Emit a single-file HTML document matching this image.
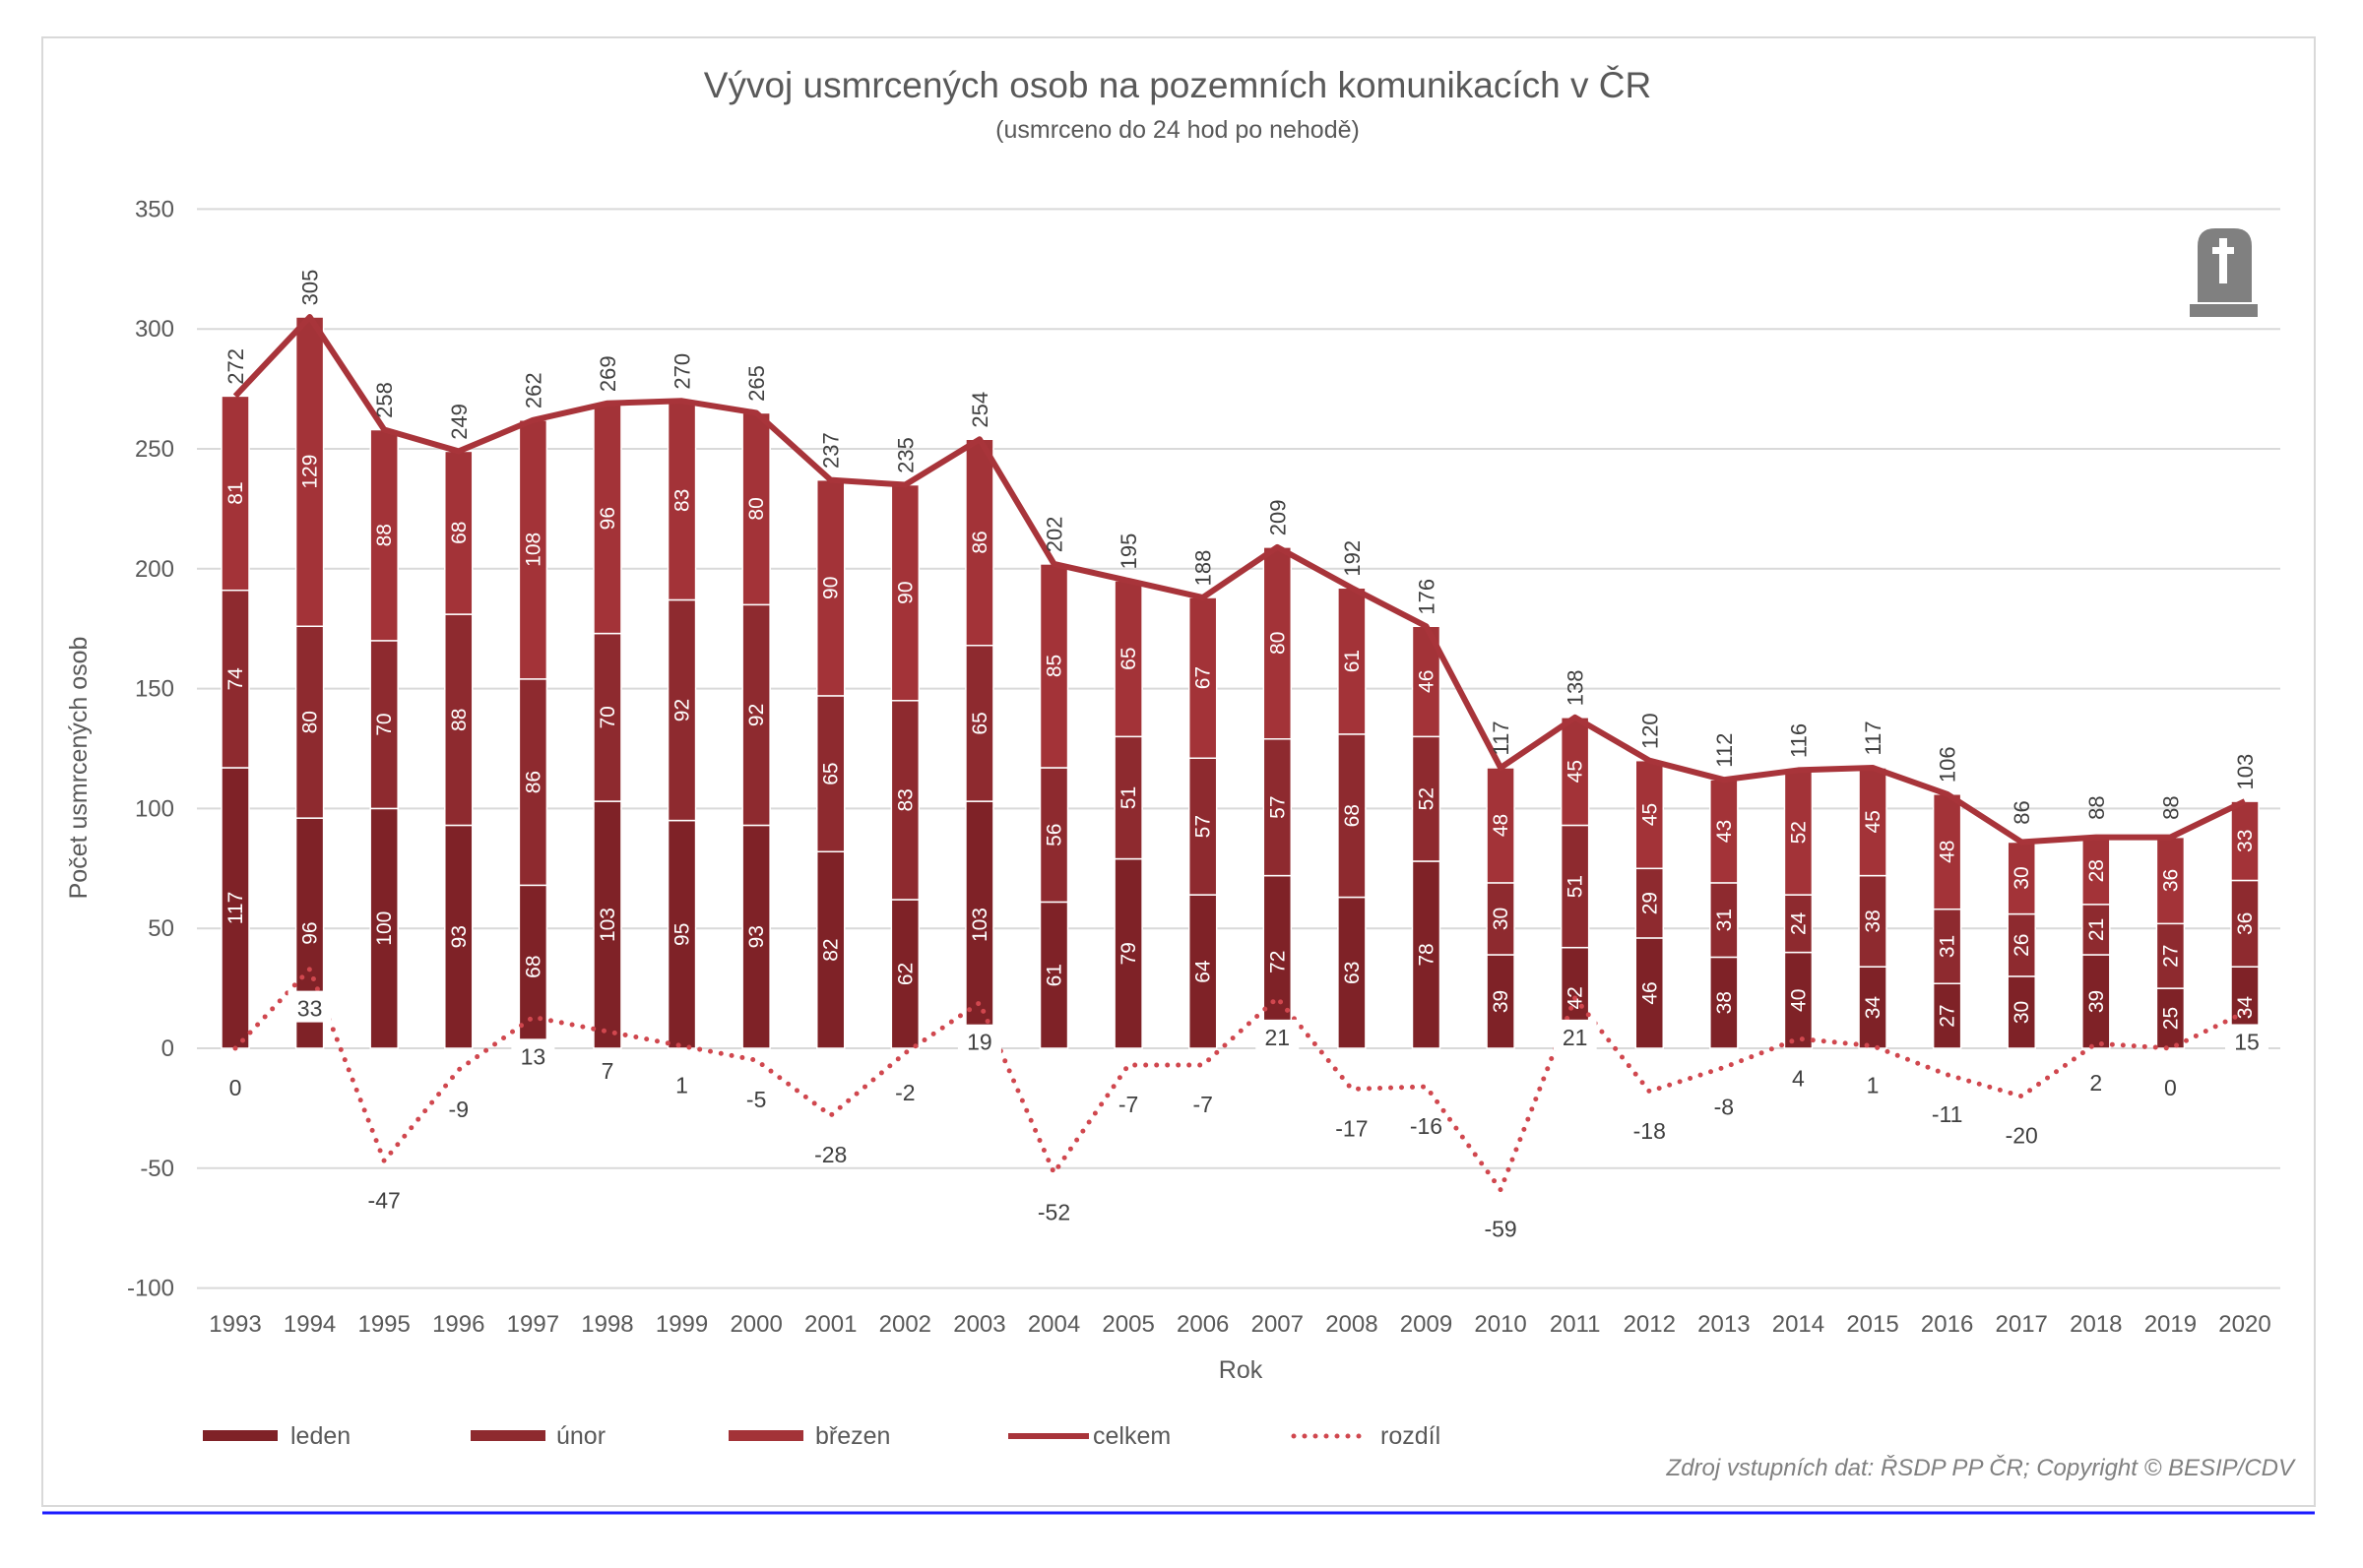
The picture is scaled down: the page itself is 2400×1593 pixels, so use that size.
<!DOCTYPE html>
<html><head><meta charset="utf-8"><style>
html,body{margin:0;padding:0;background:#fff;}
svg{display:block;font-family:"Liberation Sans",sans-serif;}
</style></head><body>
<svg id="chart" width="2400" height="1593" viewBox="0 0 2400 1593" xmlns="http://www.w3.org/2000/svg">
<rect x="43" y="38" width="2308" height="1492" fill="#fff" stroke="#d9d9d9" stroke-width="2"/>
<line x1="43" y1="1537" x2="2351" y2="1537" stroke="#1a1aff" stroke-width="3"/>
<text x="1196" y="99" text-anchor="middle" font-size="37" fill="#595959">Vývoj usmrcených osob na pozemních komunikacích v ČR</text>
<text x="1196" y="140" text-anchor="middle" font-size="25" fill="#595959">(usmrceno do 24 hod po nehodě)</text>
<g id="grid"></g>
<g id="bars"></g>
<g id="lines"></g>
<g id="labels"></g>
<text transform="translate(88,780) rotate(-90)" text-anchor="middle" font-size="25" fill="#595959">Počet usmrcených osob</text>
<text x="1260" y="1400" text-anchor="middle" font-size="25" fill="#595959">Rok</text>
<g fill="#808080">
<path d="M2232,307 L2232,250 Q2232,232 2250,232 L2269,232 Q2287,232 2287,250 L2287,307 Z"/>
<rect x="2224" y="309" width="69" height="13"/>
<rect x="2254" y="242" width="8" height="46" fill="#fff"/>
<rect x="2247" y="251" width="22" height="7" fill="#fff"/>
</g>
<g font-size="25" fill="#595959">
<g><rect x="206" y="1453" width="76" height="11" fill="#7f2227"/><text x="295" y="1467">leden</text></g>
<g><rect x="478" y="1453" width="76" height="11" fill="#8e2a2f"/><text x="565" y="1467">únor</text></g>
<g><rect x="740" y="1453" width="76" height="11" fill="#a33338"/><text x="828" y="1467">březen</text></g>
<g><line x1="1024" y1="1459" x2="1106" y2="1459" stroke="#a8343a" stroke-width="6"/><text x="1110" y="1467">celkem</text></g>
<g><line x1="1314" y1="1459" x2="1388" y2="1459" stroke="#d0474e" stroke-width="5" stroke-dasharray="0 11" stroke-linecap="round"/><text x="1402" y="1467">rozdíl</text></g>
</g>
<text x="2330" y="1499" text-anchor="end" font-size="24" font-style="italic" fill="#808080">Zdroj vstupních dat: ŘSDP PP ČR; Copyright © BESIP/CDV</text>
</svg>
<script>
const years = [1993,1994,1995,1996,1997,1998,1999,2000,2001,2002,2003,2004,2005,2006,2007,2008,2009,2010,2011,2012,2013,2014,2015,2016,2017,2018,2019,2020];
const leden = [117,96,100,93,68,103,95,93,82,62,103,61,79,64,72,63,78,39,42,46,38,40,34,27,30,39,25,34];
const unor = [74,80,70,88,86,70,92,92,65,83,65,56,51,57,57,68,52,30,51,29,31,24,38,31,26,21,27,36];
const brezen = [81,129,88,68,108,96,83,80,90,90,86,85,65,67,80,61,46,48,45,45,43,52,45,48,30,28,36,33];
const celkem = [272,305,258,249,262,269,270,265,237,235,254,202,195,188,209,192,176,117,138,120,112,116,117,106,86,88,88,103];
const rozdil = [0,33,-47,-9,13,7,1,-5,-28,-2,19,-52,-7,-7,21,-17,-16,-59,21,-18,-8,4,1,-11,-20,2,0,15];
const yTicks = [350,300,250,200,150,100,50,0,-50,-100];

const NS = "http://www.w3.org/2000/svg";
const x = i => 239 + i * (2280 - 239) / 27;
const y = v => 1065 - v * 121.8 / 50;
function mk(tag, attrs, parent, txt){const e=document.createElementNS(NS,tag);for(const k in attrs)e.setAttribute(k,attrs[k]);if(txt!==undefined)e.textContent=txt;parent.appendChild(e);return e;}
const grid=document.getElementById('grid'),bars=document.getElementById('bars'),lines=document.getElementById('lines'),labels=document.getElementById('labels');

yTicks.forEach(t=>{
  const l=mk('line',{x1:200,x2:2316,y1:y(t),y2:y(t),stroke:'#d9d9d9','stroke-width':2},grid);
  
  
  const tx=mk('text',{x:177,y:y(t)+8,'text-anchor':'end','font-size':24,fill:'#595959'},grid,String(t));
  
  
});

const BW=28;
const series=[[leden,'#7f2227','leden'],[unor,'#8e2a2f','unor'],[brezen,'#a33338','brezen']];
years.forEach((yr,i)=>{
  let base=0;
  series.forEach(([arr,col,nm])=>{
    const v=arr[i];
    const r=mk('rect',{x:x(i)-BW/2,y:y(base+v),width:BW,height:y(base)-y(base+v),fill:col,stroke:'#fff','stroke-width':1.5},bars);
    
    
    const cy=(y(base)+y(base+v))/2;
    const t=mk('text',{transform:`translate(${x(i)+7},${cy}) rotate(-90)`,'text-anchor':'middle','font-size':21,fill:'#fff'},labels,String(v));
    
    
    base+=v;
  });
  const tx=mk('text',{x:x(i),y:1353,'text-anchor':'middle','font-size':24,fill:'#595959'},labels,String(yr));
  
  
  const tt=mk('text',{transform:`translate(${x(i)+8},${y(celkem[i])-30}) rotate(-90)`,'text-anchor':'middle','font-size':22,fill:'#404040'},labels,String(celkem[i]));
  
  
});

const totPts=celkem.map((v,i)=>x(i)+','+y(v)).join(' ');
const pl=mk('polyline',{points:totPts,fill:'none',stroke:'#a8343a','stroke-width':6,'stroke-linejoin':'round'},lines);


const dPts=rozdil.map((v,i)=>x(i)+','+y(v)).join(' ');
const dl=mk('polyline',{points:dPts,fill:'none',stroke:'#d0474e','stroke-width':5,'stroke-dasharray':'0 11','stroke-linecap':'round'},lines);



rozdil.forEach((v,i)=>{
  let lx=x(i), ly=y(v)+40;
  if(i===years.length-1){lx=x(i)+2; ly=y(v)+30;}
  const s=String(v);
  if(v>0){
    const bg=mk('rect',{x:lx-22,y:ly-18,width:44,height:32,fill:'#fff'},labels);
    
    
  }
  const t=mk('text',{x:lx,y:ly+8,'text-anchor':'middle','font-size':23,fill:'#404040'},labels,s);
  
  
});
</script>
</body></html>
